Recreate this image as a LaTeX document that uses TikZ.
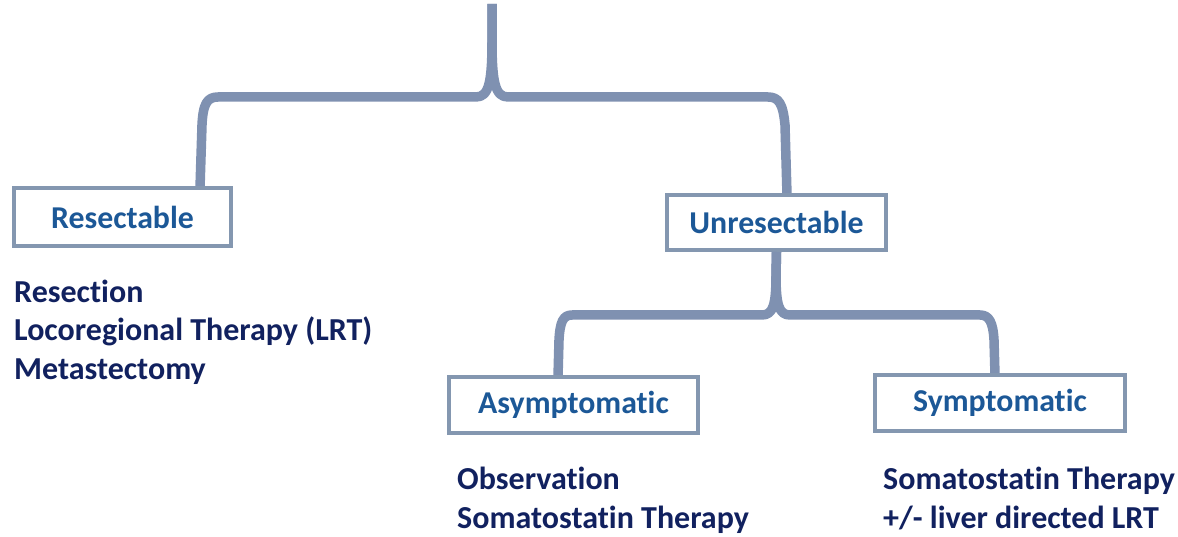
\documentclass[tikz,border=0pt]{standalone}
\usepackage{fontspec}
\setmainfont[Ligatures={NoCommon}]{Carlito}
\definecolor{boxline}{HTML}{8497B0}
\definecolor{braceline}{HTML}{7F91B1}
\definecolor{labelblue}{HTML}{1C5897}
\definecolor{listnavy}{HTML}{11215F}
\tikzset{
  catbox/.style={draw=boxline, line width=4pt, fill=white, inner sep=0pt,
    font=\fontsize{31.8}{36}\selectfont\bfseries, text=labelblue},
  listline/.style={anchor=base west, inner sep=0pt,
    font=\fontsize{32}{36}\selectfont\bfseries, text=listnavy},
  brace/.style={draw=braceline, line width=9.5pt, line join=round}
}
\begin{document}
\begin{tikzpicture}[x=1pt,y=-1pt]
\useasboundingbox (0,0) rectangle (1178,537);
% upper brace
\coordinate (top) at (492,4);
\coordinate (resarm) at (200,188);
\coordinate (unsarm) at (787,195);
\draw[brace] (top) -- (492,40) .. controls (492,82) and (489,97) .. (476,97)
  -- (218,97) .. controls (207,97) and (203,104) .. (202,125) -- (resarm);
\draw[brace] (top) -- (492,40) .. controls (492,82) and (495,97) .. (508,97)
  -- (768,97) .. controls (779,97) and (783,104) .. (785,125) -- (unsarm);
% boxes
\node[catbox, minimum width=217pt, minimum height=58pt] (res) at (122.5,217) {Resectable};
\node[catbox, minimum width=219pt, minimum height=55pt] (uns) at (776.5,222.5) {Unresectable};
% lower brace
\coordinate (asyarm) at (558,377);
\coordinate (symarm) at (995,375);
\draw[brace] (uns.south) -- (776,275) .. controls (776,305) and (773,315) .. (762,315)
  -- (572,315) .. controls (563,315) and (560,322) .. (559,340) -- (asyarm);
\draw[brace] (uns.south) -- (776,275) .. controls (776,305) and (779,315) .. (790,315)
  -- (980,315) .. controls (989,315) and (993,322) .. (994,340) -- (symarm);
\node[catbox, minimum width=249pt, minimum height=56pt] (asy) at (573.5,405) {Asymptomatic};
\node[catbox, minimum width=250pt, minimum height=56pt] (sym) at (1000,403) {Symptomatic};
% lists
\node[listline] (r1) at (14,302) {Resection};
\node[listline] (r2) at (14,341) {Locoregional Therapy (LRT)};
\node[listline] (r3) at (14,379) {Metastectomy};
\node[listline] (a1) at (457,489) {Observation};
\node[listline] (a2) at (457,528) {Somatostatin Therapy};
\node[listline] (s1) at (883,489) {Somatostatin Therapy};
\node[listline] (s2) at (883,528) {+/- liver directed LRT};
\end{tikzpicture}
\end{document}
